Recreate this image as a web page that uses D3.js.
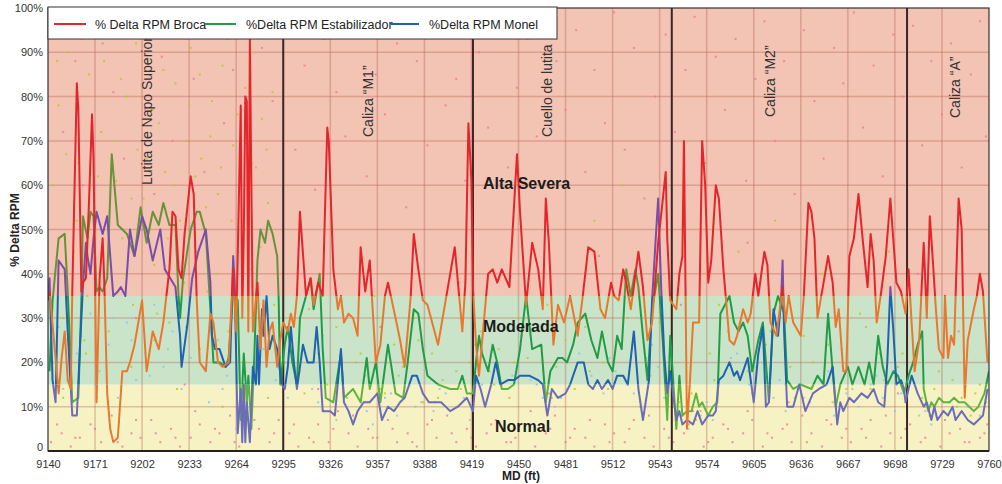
<!DOCTYPE html>
<html><head><meta charset="utf-8">
<script src="https://cdn.jsdelivr.net/npm/d3@7"></script>
<style>body{margin:0;background:#fff}svg{display:block}</style>
</head><body><svg id="c" width="1002" height="484"></svg>
<script>
// ---------- DATA ----------
const xTicks=[9140,9171,9202,9233,9264,9295,9326,9357,9388,9419,9450,9481,9512,9543,9574,9605,9636,9667,9698,9729,9760];
const yTicks=[0,10,20,30,40,50,60,70,80,90,100];
const yTickLabels=["0","10%","20%","30%","40%","50%","60%","70%","80%","90%","100%"];
const zoneBounds=[0,15,35,100];
const zoneNames=["Normal","Moderada","Alta Severa"];
const formationTops=[9295,9420,9551,9706];
const formationNames=["Lutita de Napo Superior","Caliza \u201CM1\u201D","Cuello de lutita","Caliza \u201CM2\u201D","Caliza \u201CA\u201D"];
const seriesNames=["% Delta RPM Broca","%Delta RPM Estabilizador","%Delta RPM Monel"];

const broca=[[9141,36],[9145,21],[9147,13],[9149,21],[9151,27],[9153,16],[9155,14],[9156,36],[9159,83],[9160,77],[9162,36],[9163,38],[9165,39],[9167,56],[9169,76],[9170,66],[9172,11],[9174,39],[9176,48],[9177,39],[9179,13],[9181,5],[9183,2],[9186,3],[9189,18],[9192,18],[9194,20],[9197,24],[9199,28],[9202,34],[9205,18],[9209,27],[9213,23],[9216,29],[9218,35],[9220,41],[9222,54],[9224,53],[9226,41],[9228,39],[9230,49],[9234,62],[9236,58],[9238,34],[9240,20],[9244,18],[9247,31],[9249,29],[9252,20],[9255,19],[9259,20],[9262,41],[9264,27],[9267,78],[9268,30],[9269,49],[9270,80],[9271,79],[9272,27],[9273,93],[9275,27],[9278,38],[9280,23],[9282,34],[9284,19],[9286,27],[9288,29],[9291,19],[9293,25],[9295,29],[9298,27],[9300,31],[9302,28],[9304,35],[9306,54],[9310,35],[9313,39],[9315,33],[9318,38],[9321,35],[9324,73],[9325,70],[9328,41],[9331,32],[9333,35],[9335,29],[9338,31],[9341,30],[9344,26],[9346,46],[9349,36],[9352,43],[9356,20],[9359,24],[9362,35],[9364,38],[9369,30],[9372,25],[9375,19],[9379,35],[9381,49],[9384,41],[9387,34],[9390,33],[9397,24],[9408,46],[9413,27],[9415,38],[9417,74],[9419,61],[9420,37],[9422,24],[9424,17],[9430,40],[9433,41],[9436,38],[9439,41],[9444,37],[9449,67],[9451,54],[9455,33],[9459,47],[9463,41],[9466,32],[9468,57],[9470,47],[9473,24],[9476,33],[9480,29],[9484,35],[9489,26],[9492,34],[9496,46],[9500,45],[9504,32],[9507,30],[9511,38],[9513,35],[9516,34],[9519,41],[9521,38],[9524,32],[9529,45],[9532,37],[9535,25],[9538,29],[9542,47],[9547,63],[9548,48],[9550,34],[9554,32],[9556,40],[9558,44],[9559,70],[9560,38],[9561,5],[9563,16],[9565,29],[9569,29],[9571,70],[9573,60],[9575,38],[9577,43],[9580,60],[9582,57],[9585,41],[9589,25],[9592,24],[9594,26],[9598,32],[9601,29],[9603,31],[9606,40],[9608,35],[9612,45],[9614,42],[9616,29],[9620,26],[9624,37],[9626,29],[9628,35],[9631,29],[9636,26],[9638,35],[9641,56],[9643,54],[9645,48],[9647,30],[9651,38],[9654,44],[9657,38],[9659,28],[9661,32],[9664,18],[9666,18],[9668,44],[9671,48],[9674,58],[9677,47],[9680,37],[9682,49],[9684,43],[9686,29],[9689,36],[9692,44],[9695,57],[9699,38],[9702,36],[9705,31],[9707,41],[9709,29],[9711,18],[9714,25],[9717,47],[9719,30],[9721,53],[9723,43],[9725,32],[9727,23],[9730,21],[9731,35],[9733,21],[9735,26],[9737,24],[9740,57],[9742,50],[9744,12],[9746,25],[9750,32],[9752,35],[9754,40],[9756,36],[9759,20]];

const estabilizador=[[9141,18],[9143,34],[9147,48],[9151,49],[9153,36],[9155,20],[9156,11],[9160,12],[9162,34],[9163,53],[9166,48],[9168,54],[9170,53],[9172,36],[9174,37],[9176,36],[9179,39],[9182,67],[9186,51],[9189,50],[9192,49],[9194,47],[9197,44],[9201,55],[9205,47],[9209,54],[9213,51],[9216,56],[9220,51],[9224,51],[9226,35],[9227,30],[9229,39],[9234,50],[9238,54],[9240,54],[9244,49],[9247,32],[9249,20],[9253,20],[9257,19],[9259,21],[9262,36],[9265,34],[9267,7],[9269,22],[9271,11],[9272,17],[9274,5],[9276,22],[9278,43],[9280,50],[9283,47],[9285,52],[9288,49],[9291,44],[9292,34],[9293,15],[9296,24],[9298,28],[9301,20],[9304,15],[9306,30],[9310,35],[9313,39],[9315,32],[9317,36],[9319,40],[9321,23],[9323,12],[9328,11],[9333,22],[9335,12],[9341,14],[9346,11],[9350,21],[9352,14],[9356,20],[9359,11],[9364,24],[9369,13],[9374,12],[9377,20],[9381,32],[9384,31],[9387,23],[9390,17],[9397,15],[9405,14],[9410,14],[9413,17],[9416,13],[9420,13],[9422,20],[9424,26],[9426,22],[9430,18],[9433,24],[9436,20],[9439,14],[9443,14],[9447,15],[9451,23],[9455,35],[9459,23],[9465,24],[9468,11],[9471,18],[9476,21],[9479,21],[9482,20],[9486,24],[9489,29],[9494,31],[9498,25],[9502,21],[9505,27],[9509,20],[9512,18],[9515,26],[9518,23],[9521,41],[9524,35],[9527,41],[9529,37],[9532,26],[9535,16],[9538,32],[9542,40],[9545,25],[9548,7],[9550,26],[9554,5],[9556,17],[9558,8],[9561,9],[9564,9],[9567,13],[9569,10],[9571,11],[9575,8],[9578,10],[9581,11],[9583,31],[9589,35],[9592,29],[9595,27],[9598,29],[9601,26],[9604,18],[9608,25],[9611,29],[9613,20],[9615,11],[9618,31],[9621,35],[9625,31],[9627,16],[9631,14],[9636,15],[9643,14],[9647,17],[9651,15],[9654,31],[9657,18],[9659,10],[9662,15],[9667,19],[9670,15],[9674,19],[9678,15],[9681,20],[9684,15],[9687,26],[9690,19],[9693,15],[9697,18],[9700,17],[9704,13],[9707,17],[9710,20],[9713,24],[9716,27],[9717,14],[9720,9],[9722,11],[9724,10],[9727,12],[9730,11],[9734,11],[9737,12],[9740,11],[9744,11],[9747,10],[9750,9],[9753,10],[9757,13],[9760,18]];

const monel=[[9140,34],[9141,39],[9143,16],[9145,11],[9147,43],[9151,41],[9153,27],[9156,8],[9159,8],[9161,23],[9163,37],[9165,47],[9166,44],[9168,40],[9170,48],[9172,54],[9176,49],[9179,53],[9183,35],[9186,36],[9188,37],[9191,35],[9194,50],[9197,44],[9202,53],[9205,50],[9209,43],[9214,50],[9217,41],[9224,37],[9227,26],[9228,19],[9232,29],[9235,39],[9239,45],[9244,50],[9247,38],[9248,26],[9250,23],[9253,23],[9257,19],[9260,20],[9262,44],[9263,38],[9265,4],[9267,14],[9268,2],[9269,15],[9270,2],[9271,11],[9273,2],[9275,19],[9277,15],[9278,26],[9279,15],[9281,32],[9282,26],[9284,35],[9286,23],[9288,26],[9291,23],[9294,15],[9296,14],[9298,19],[9300,28],[9302,20],[9304,14],[9308,24],[9311,20],[9315,20],[9317,28],[9319,20],[9321,9],[9326,9],[9329,8],[9333,23],[9335,11],[9338,9],[9341,6],[9344,9],[9348,11],[9352,11],[9357,13],[9360,7],[9364,10],[9368,9],[9372,11],[9375,12],[9380,17],[9383,17],[9387,13],[9391,11],[9394,11],[9399,11],[9405,9],[9410,10],[9416,12],[9420,9],[9422,17],[9425,14],[9428,10],[9432,15],[9435,20],[9438,15],[9443,16],[9447,16],[9451,17],[9457,17],[9463,16],[9466,15],[9469,8],[9472,14],[9476,12],[9481,13],[9484,15],[9489,20],[9493,20],[9496,15],[9499,14],[9502,16],[9505,14],[9509,16],[9512,14],[9515,17],[9519,17],[9522,15],[9526,27],[9529,14],[9532,7],[9536,16],[9538,34],[9542,57],[9544,37],[9546,22],[9548,13],[9550,18],[9554,7],[9556,9],[9558,6],[9561,7],[9565,6],[9568,9],[9571,6],[9575,8],[9578,8],[9580,9],[9582,16],[9585,17],[9589,20],[9592,17],[9594,18],[9596,16],[9601,21],[9605,11],[9608,22],[9611,28],[9613,10],[9615,11],[9618,32],[9621,26],[9623,34],[9624,43],[9625,27],[9627,10],[9631,10],[9635,15],[9639,9],[9644,13],[9648,14],[9653,15],[9657,19],[9660,6],[9662,11],[9664,9],[9668,12],[9671,11],[9676,13],[9680,12],[9684,14],[9687,11],[9691,10],[9693,20],[9695,37],[9697,27],[9699,15],[9702,16],[9704,14],[9705,11],[9709,17],[9713,13],[9717,10],[9719,11],[9722,7],[9724,10],[9726,7],[9730,9],[9733,8],[9736,10],[9738,7],[9742,9],[9746,7],[9750,6],[9753,7],[9756,8],[9759,14]];

// raw readings (scatter), flat [md, pct, md, pct, ...]
const brocaRaw=[9145,95,9150,72,9158,88,9163,60,9170,45,9176,92,9183,81,9190,66,9196,97,9204,77,9210,58,9215,89,9222,70,9228,94,9236,84,9243,63,9250,99,9256,74,9262,86,9274,65,9281,91,9288,79,9297,96,9303,68,9309,87,9316,59,9322,93,9330,81,9336,71,9343,98,9350,62,9356,85,9362,76,9370,92,9376,55,9383,88,9390,69,9396,95,9402,78,9409,84,9415,61,9424,90,9430,73,9437,97,9443,64,9449,82,9456,93,9462,71,9468,52,9475,88,9481,77,9488,95,9494,63,9500,86,9507,74,9513,99,9520,68,9526,91,9533,57,9540,80,9547,94,9553,72,9560,86,9566,98,9573,65,9580,89,9586,77,9593,93,9600,61,9606,84,9612,97,9619,70,9625,88,9632,58,9638,95,9645,79,9651,66,9658,91,9664,83,9671,99,9677,73,9684,87,9690,62,9697,94,9703,80,9710,96,9716,69,9722,88,9729,76,9735,92,9742,64,9748,85,9754,97,9758,71,
9142,2,9149,4,9155,1,9161,3,9168,6,9175,2,9182,8,9189,1,9195,4,9201,3,9208,7,9214,2,9221,5,9227,1,9234,3,9240,6,9247,2,9253,4,9260,8,9266,1,9273,3,9279,5,9286,2,9292,7,9299,4,9305,1,9312,3,9318,6,9325,2,9331,9,9338,4,9344,1,9351,5,9357,3,9364,7,9370,2,9377,4,9383,1,9390,6,9396,3,9403,8,9409,2,9416,5,9422,1,9429,4,9435,7,9442,2,9448,3,9455,6,9461,1,9468,4,9474,8,9481,2,9487,5,9494,3,9500,1,9507,6,9513,4,9520,2,9526,7,9533,3,9539,1,9546,5,9552,2,9559,4,9565,9,9572,1,9578,3,9585,6,9591,2,9598,4,9604,7,9611,1,9617,3,9624,5,9630,2,9637,8,9643,4,9650,1,9656,6,9663,3,9669,2,9676,5,9682,7,9689,1,9695,4,9702,3,9708,6,9715,2,9721,8,9728,1,9734,4,9741,5,9747,2,9754,3,9759,6,
9146,6,9158,3,9171,5,9186,2,9198,7,9211,4,9224,3,9237,9,9250,5,9263,2,9276,7,9289,4,9302,6,9315,2,9328,5,9341,8,9354,3,9367,5,9380,2,9393,7,9406,4,9419,3,9432,6,9445,2,9458,9,9471,5,9484,3,9497,7,9510,2,9523,5,9536,8,9549,3,9562,6,9575,2,9588,5,9601,9,9614,4,9627,6,9640,2,9653,7,9666,5,9679,3,9692,8,9705,5,9718,3,9731,7,9744,2,9757,4,
9153,25,9198,30,9246,42,9301,20,9359,28,9411,38,9452,26,9503,44,9557,33,9601,47,9662,30,9713,40,9740,27,9172,12,9230,15,9318,14,9395,11,9470,13,9548,12,9628,11,9700,13];
const estabRaw=[9143,60,9147,78,9150,30,9153,90,9157,45,9160,65,9164,25,9167,85,9171,55,9175,72,9178,38,9182,95,9185,61,9189,48,9192,80,9196,33,9199,68,9203,57,9206,88,9210,42,9213,74,9217,63,9220,29,9224,83,9227,52,9231,70,9234,91,9238,45,9241,66,9245,36,9248,79,9252,58,9255,87,9259,27,9262,69,9266,50,9270,82,9274,41,9277,64,9281,75,9285,56,9289,33,
9144,40,9146,88,9152,67,9159,52,9162,93,9166,35,9169,74,9173,62,9177,88,9180,50,9184,70,9188,84,9191,40,9195,57,9198,92,9202,45,9205,66,9209,77,9212,31,9216,86,9219,48,9223,60,9226,94,9230,38,9233,78,9237,62,9240,85,9244,55,9247,71,9251,40,9254,64,9258,93,9261,52,9265,76,9268,30,9272,58,9276,90,9280,46,9284,68,9288,81,
9300,25,9306,18,9312,32,9318,22,9324,15,9330,28,9337,12,9343,20,9349,17,9355,35,9362,13,9368,24,9374,19,9381,30,9387,11,9393,22,9400,16,9406,41,9412,14,9418,20,9425,27,9431,18,9437,23,9444,12,9450,30,9456,21,9462,16,9469,33,9475,19,9481,25,9487,14,9494,28,9500,52,9506,20,9512,35,9518,60,9525,24,9531,40,9537,17,9543,29,9552,10,9558,8,9564,13,9570,9,9576,22,9582,33,9588,27,9595,45,9601,18,9607,38,9613,24,9619,52,9626,15,9632,12,9638,26,9644,20,9650,40,9657,11,9663,23,9669,17,9675,31,9682,14,9688,22,9694,45,9700,19,9706,13,9712,21,9718,10,9724,14,9730,9,9736,16,9742,12,9748,8,9754,15,9758,11,
9150,12,9165,22,9180,27,9195,19,9210,25,9225,14,9240,23,9255,10,9270,18,9285,12,9296,20,9309,13,9321,26,9334,16,9346,22,9359,14,9371,17,9384,25,9397,12,9409,18,9421,24,9434,15,9447,20,9459,27,9472,12,9484,22,9497,18,9509,14,9522,30,9534,21,9547,15,9556,11,9567,7,9579,16,9591,30,9604,13,9616,27,9629,19,9641,30,9654,24,9666,14,9679,28,9691,16,9703,22,9716,12,9727,18,9739,10,9751,13];
const monelRaw=[9144,20,9150,14,9156,9,9162,26,9168,31,9174,18,9180,24,9186,12,9192,29,9198,16,9204,22,9210,33,9216,19,9222,27,9228,14,9234,21,9240,30,9246,11,9252,25,9258,17,9264,5,9270,8,9276,20,9282,23,9290,16,9298,12,9306,19,9314,14,9322,9,9330,7,9338,13,9346,10,9354,6,9362,12,9370,8,9378,15,9386,11,9394,9,9402,13,9410,10,9418,7,9426,15,9434,18,9442,14,9450,19,9458,16,9466,12,9474,10,9482,14,9490,22,9498,17,9506,13,9514,18,9522,15,9530,10,9538,24,9546,12,9554,6,9562,5,9570,8,9578,7,9586,18,9594,22,9602,15,9610,25,9618,12,9626,9,9634,14,9642,11,9650,16,9658,8,9666,13,9674,10,9682,15,9690,12,9698,9,9706,16,9714,8,9722,6,9730,9,9738,7,9746,10,9754,8,
9147,28,9159,22,9171,15,9183,30,9195,25,9207,17,9219,23,9231,28,9243,19,9255,14,9267,10,9279,27,9293,21,9303,17,9318,11,9334,15,9350,9,9366,13,9382,10,9398,14,9414,12,9430,19,9446,17,9462,15,9478,12,9494,18,9510,21,9526,13,9542,19,9558,8,9574,11,9590,21,9606,19,9622,16,9638,12,9654,18,9670,14,9686,17,9702,13,9718,9,9734,11,9750,9];

// ---------- LAYOUT ----------
const svg=d3.select("#c");
const L=48,R=989,T=8,B=451;
const x=d3.scaleLinear().domain([9140,9760]).range([L,R]);
const y=d3.scaleLinear().domain([0,100]).range([B,T]);
const font="'Liberation Sans', Arial, sans-serif";
const zoneFill=["#f7f2c4","#c9e4c8","#f3c3b3"];
const lineColors=[
  ["#e9782f","#e9782f","#e3262b"],   // Broca: normal, moderada, alta
  ["#5fb43f","#1f9c45","#68923a"],   // Estabilizador
  ["#6b6db7","#1f62ad","#7a4ea6"]    // Monel
];
const defs=svg.append("defs");
defs.append("clipPath").attr("id","plot").append("rect").attr("x",L).attr("y",T).attr("width",R-L).attr("height",B-T);
zoneNames.forEach((z,i)=>{
  const top=i===2?T-2:y(zoneBounds[i+1]);
  const bot=i===0?B+2:y(zoneBounds[i]);
  defs.append("clipPath").attr("id","z"+i).append("rect")
    .attr("x",L).attr("width",R-L).attr("y",top).attr("height",bot-top);
});

// zone backgrounds
zoneNames.forEach((z,i)=>{
  svg.append("rect").attr("x",L).attr("width",R-L)
    .attr("y",y(zoneBounds[i+1])).attr("height",y(zoneBounds[i])-y(zoneBounds[i+1]))
    .attr("fill",zoneFill[i]);
});

// grid
const grid=svg.append("g").attr("stroke","rgba(176,92,80,0.35)").attr("stroke-width",1.5);
xTicks.slice(1,-1).forEach(t=>grid.append("line").attr("x1",x(t)).attr("x2",x(t)).attr("y1",T).attr("y2",B));
yTicks.slice(1,-1).forEach(t=>grid.append("line").attr("x1",L).attr("x2",R).attr("y1",y(t)).attr("y2",y(t)));

// scatter
const dots=svg.append("g").attr("clip-path","url(#plot)");
function drawRaw(arr,col){
  const pts=d3.range(0,arr.length,2).map(i=>[arr[i],arr[i+1]]);
  dots.selectAll(null).data(pts).join("rect")
    .attr("x",d=>x(d[0])-1).attr("y",d=>y(d[1])-1).attr("width",2).attr("height",2)
    .attr("fill",col).attr("opacity",0.85);
}
drawRaw(brocaRaw,"#e8809a");
drawRaw(estabRaw,"#b9c92a");
drawRaw(monelRaw,"#8ec6e6");

// formation tops
formationTops.forEach(t=>svg.append("line").attr("x1",x(t)).attr("x2",x(t)).attr("y1",T).attr("y2",B)
  .attr("stroke","#3a2626").attr("stroke-width",2));

// lines, colour by zone
const line=d3.line().x(d=>x(d[0])).y(d=>y(d[1]));
const seriesData=[estabilizador,monel,broca];
const seriesIdx=[1,2,0];
seriesData.forEach((data,k)=>{
  const si=seriesIdx[k];
  zoneNames.forEach((z,i)=>{
    svg.append("path").datum(data).attr("d",line).attr("fill","none")
      .attr("stroke",lineColors[si][i]).attr("stroke-width",2).attr("stroke-linejoin","round")
      .attr("clip-path","url(#z"+i+")");
  });
});

// frame
svg.append("rect").attr("x",L).attr("y",T).attr("width",R-L).attr("height",B-T)
  .attr("fill","none").attr("stroke","#333").attr("stroke-width",1.2);
svg.append("line").attr("x1",L).attr("x2",R).attr("y1",B).attr("y2",B).attr("stroke","#222").attr("stroke-width",2);

// axes
const xAxis=d3.axisBottom(x).tickValues(xTicks).tickFormat(d3.format("d")).tickSize(0).tickPadding(9);
const gx=svg.append("g").attr("transform",`translate(0,${B})`).call(xAxis);
gx.select(".domain").remove();
gx.selectAll("text").attr("font-family",font).attr("font-size",11).attr("fill","#333");
const yAxis=d3.axisLeft(y).tickValues(yTicks).tickFormat((d,i)=>yTickLabels[i]).tickSize(0).tickPadding(5);
const gy=svg.append("g").attr("transform",`translate(${L},0)`).call(yAxis);
gy.select(".domain").remove();
gy.selectAll("text").attr("font-family",font).attr("font-size",11).attr("fill","#333");
gy.selectAll(".tick").filter(d=>d===0).select("text").attr("dy","-0.05em");

svg.append("text").attr("x",521).attr("y",480).attr("text-anchor","middle")
  .attr("font-family",font).attr("font-weight","bold").attr("font-size",12).attr("fill","#222").text("MD (ft)");
svg.append("text").attr("transform","translate(19,230) rotate(-90)").attr("text-anchor","middle")
  .attr("font-family",font).attr("font-weight","bold").attr("font-size",12).attr("fill","#222").text("% Delta RPM");

// zone labels
const zoneLabelPos=[[495,432],[483,332],[483,189]];
zoneNames.forEach((z,i)=>svg.append("text").attr("x",zoneLabelPos[i][0]).attr("y",zoneLabelPos[i][1])
  .attr("font-family",font).attr("font-weight","bold").attr("font-size",16).attr("fill","#1c1c1c").text(z));

// formation labels (rotated)
const formLabelX=[147,368,547,770,955];
const formLabelBottom=[185,137,137,117,118];
formationNames.forEach((n,i)=>svg.append("text")
  .attr("transform",`translate(${formLabelX[i]+5},${formLabelBottom[i]}) rotate(-90)`)
  .attr("font-family",font).attr("font-size",14).attr("fill","#333").text(n));

// legend
const lg=svg.append("g");
lg.append("rect").attr("x",48).attr("y",7).attr("width",509).attr("height",32).attr("fill","#fff").attr("stroke","#333").attr("stroke-width",1);
const legX=[[54,86,95],[205,236,246],[391,419,429]];
const legCol=[lineColors[0][2],lineColors[1][1],lineColors[2][1]];
seriesNames.forEach((n,i)=>{
  lg.append("line").attr("x1",legX[i][0]).attr("x2",legX[i][1]).attr("y1",24).attr("y2",24).attr("stroke",legCol[i]).attr("stroke-width",2);
  lg.append("text").attr("x",legX[i][2]).attr("y",28.5).attr("font-family",font).attr("font-size",12.5).attr("fill","#222").text(n);
});
</script></body></html>
